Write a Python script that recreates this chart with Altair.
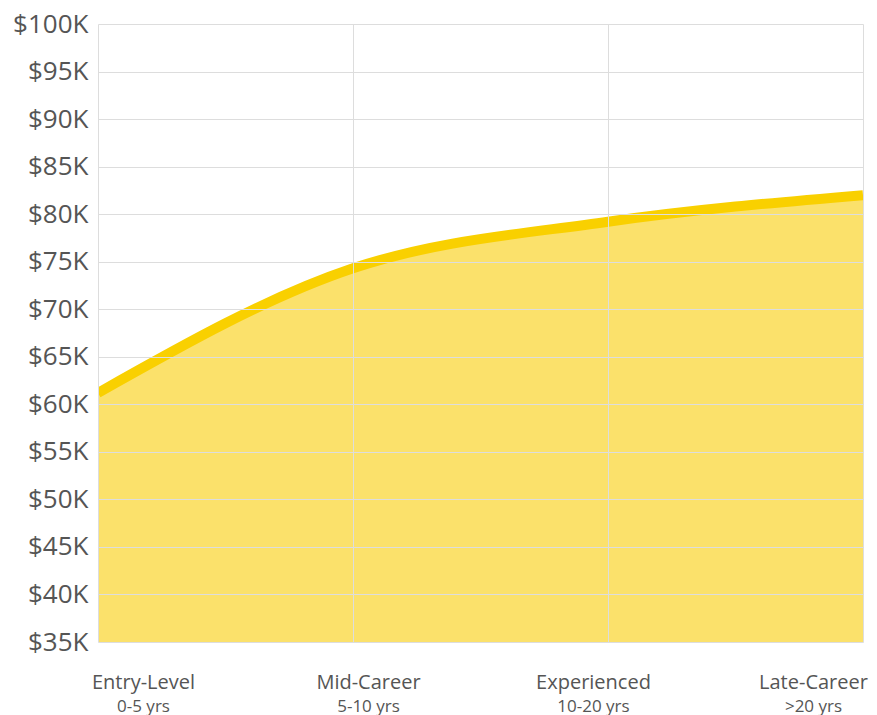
import altair as alt
import pandas as pd

categories = ["Entry-Level", "Mid-Career", "Experienced", "Late-Career"]
sublabels = ["0-5 yrs", "5-10 yrs", "10-20 yrs", ">20 yrs"]
salary = [61200, 74300, 79200, 82000]

df = pd.DataFrame({"cat": categories, "sub": sublabels, "salary": salary})

ydom = [35000, 100000]
grid_color = "#dddddd"
text_color = "#555555"
font = "Open Sans"
offset_expr = "datum.index == 1 ? -50 : 45 - 90*datum.index"

y_enc = alt.Y(
    "salary:Q",
    scale=alt.Scale(domain=ydom, nice=False, zero=False),
    axis=alt.Axis(
        values=list(range(35000, 100001, 5000)),
        labelExpr="'$' + datum.value/1000 + 'K'",
        title=None,
        domain=False,
        ticks=False,
        labelFontSize=26,
        labelColor=text_color,
        labelFont=font,
        labelPadding=10,
        gridColor=grid_color,
        zindex=1,
    ),
)

x_main = alt.X(
    "cat:N",
    sort=categories,
    scale=alt.Scale(type="point", padding=0),
    axis=alt.Axis(
        title=None,
        labelAngle=0,
        domain=False,
        ticks=False,
        grid=True,
        labelFontSize=20,
        labelColor=text_color,
        labelFont=font,
        labelPadding=30,
        labelOffset=alt.ExprRef(offset_expr),
        gridColor=grid_color,
        orient="bottom",
        zindex=1,
    ),
)

area = alt.Chart(df).mark_area(
    color="#FBE16B", interpolate="monotone", clip=True, opacity=1
).encode(x=x_main, y=y_enc, y2=alt.datum(35000))

line = alt.Chart(df).mark_line(
    color="#F9D000", strokeWidth=10, interpolate="monotone", clip=True
).encode(x=alt.X("cat:N", sort=categories), y="salary:Q")

sub = alt.Chart(df).mark_point(opacity=0).encode(
    x=alt.X(
        "sub:N",
        sort=sublabels,
        scale=alt.Scale(type="point", padding=0),
        axis=alt.Axis(
            title=None,
            labelAngle=0,
            domain=False,
            ticks=False,
            grid=False,
            labelFontSize=17,
            labelColor=text_color,
            labelFont=font,
            labelPadding=56,
            labelOffset=alt.ExprRef(offset_expr),
            orient="bottom",
        ),
    ),
    y="salary:Q",
)

chart = (
    alt.layer(area + line, sub)
    .resolve_scale(x="independent")
    .resolve_axis(x="independent")
    .properties(
        width=765,
        height=618,
        autosize=alt.AutoSizeParams(type="none"),
        padding={"left": 90, "top": 16, "right": 6, "bottom": 73},
    )
    .configure_view(stroke=None)
    .configure_axis(labelFont=font)
)

chart.save("out.html", embed_options={"renderer": "svg", "actions": False})
